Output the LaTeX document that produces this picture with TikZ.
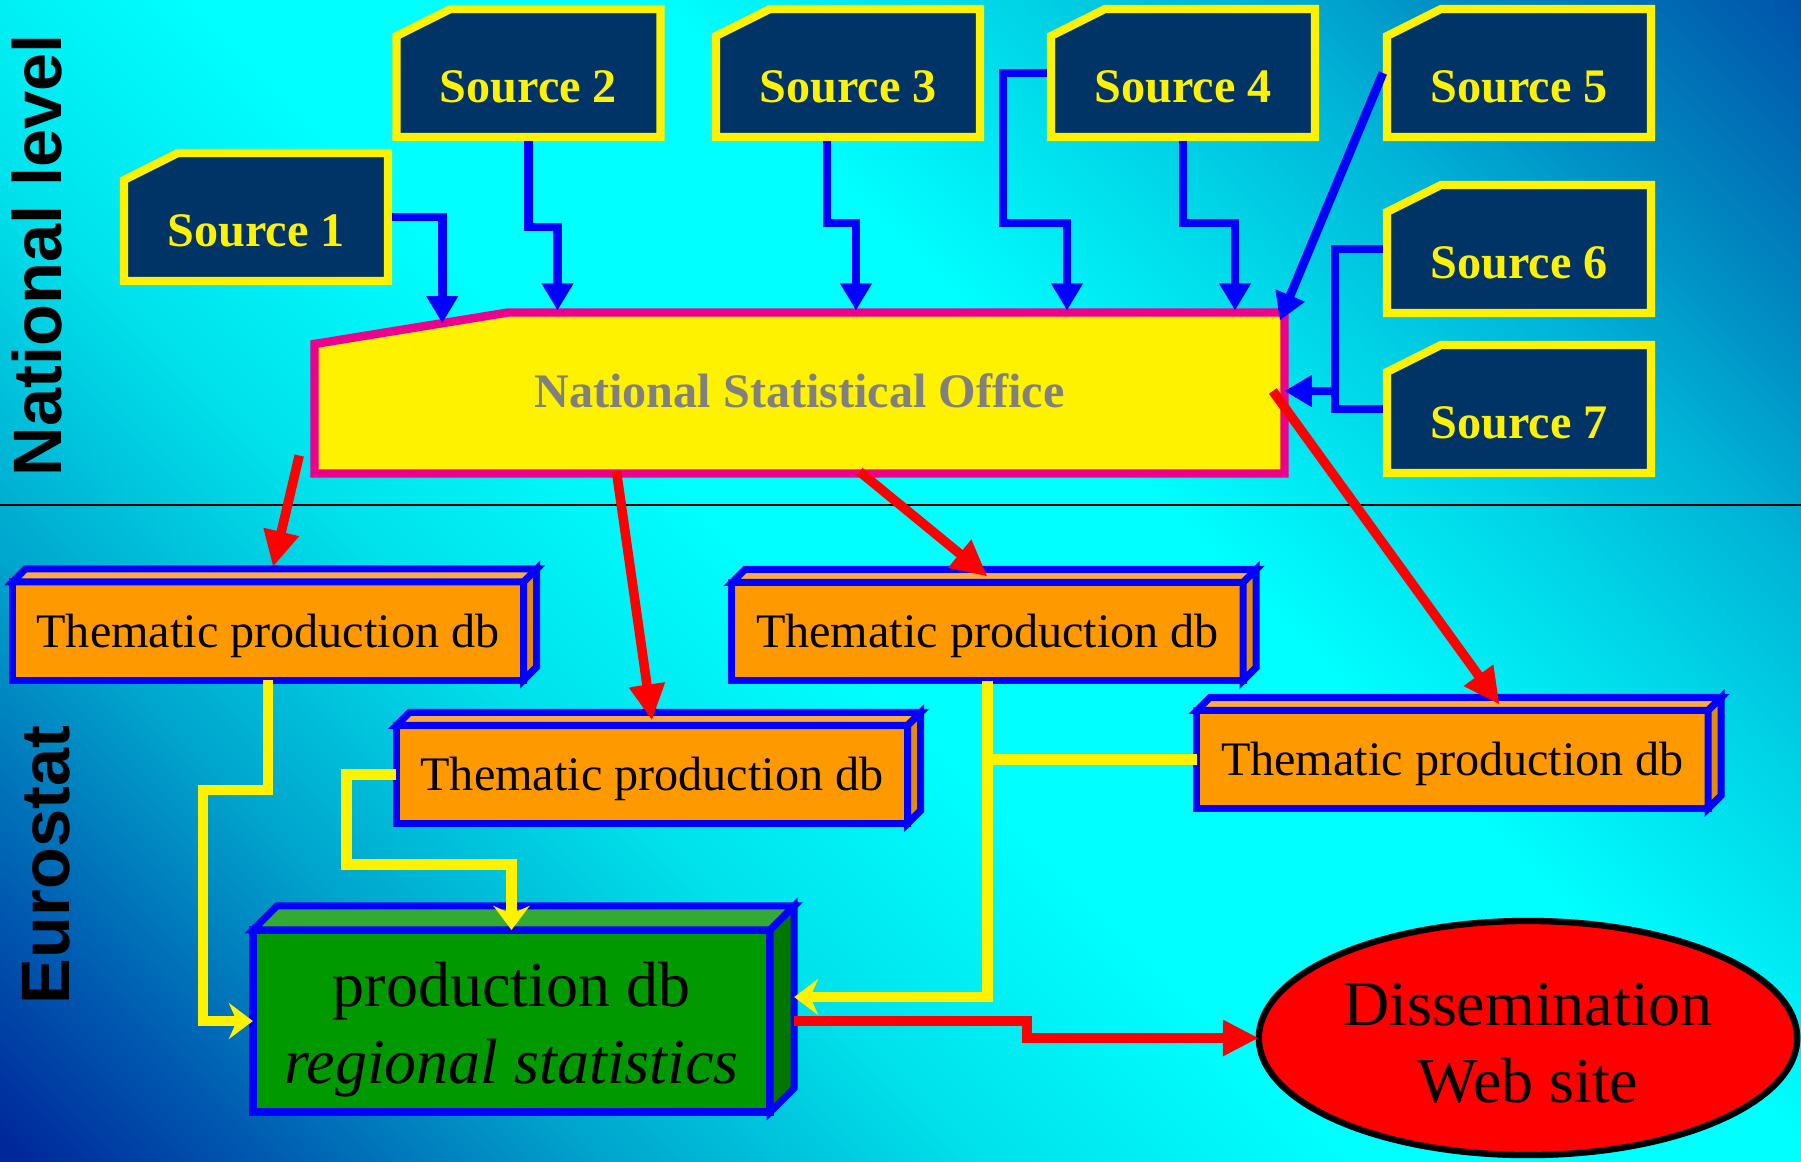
\documentclass[tikz,border=0pt]{standalone}
\usepackage{fontspec}
\setmainfont{Liberation Serif}
\setsansfont{Liberation Sans}
\usetikzlibrary{arrows.meta,calc,shapes.geometric}

\definecolor{srcblue}{RGB}{0,51,102}
\definecolor{tporange}{RGB}{255,153,0}
\definecolor{tptop}{RGB}{255,170,60}
\definecolor{tpside}{RGB}{230,140,0}
\definecolor{prodgreen}{RGB}{0,153,0}
\definecolor{prodtop}{RGB}{51,170,51}
\definecolor{prodside}{RGB}{0,120,0}
\definecolor{bgA}{RGB}{0,40,155}
\definecolor{bgB}{RGB}{0,100,180}
\definecolor{bgC}{RGB}{0,165,205}
\definecolor{bgD}{RGB}{0,225,235}
\definecolor{bgE}{RGB}{0,255,255}
\definecolor{bgF}{RGB}{0,215,232}
\definecolor{bgG}{RGB}{0,180,215}
\definecolor{bgH}{RGB}{0,135,192}
\definecolor{bgI}{RGB}{0,80,168}
\pgfdeclarehorizontalshading{backdrop}{100bp}{color(0bp)=(bgA); color(15bp)=(bgA); color(22bp)=(bgB); color(29bp)=(bgC); color(38bp)=(bgD); color(47bp)=(bgE); color(58bp)=(bgE); color(66bp)=(bgF); color(72bp)=(bgG); color(78bp)=(bgH); color(86bp)=(bgI); color(100bp)=(bgI)}

\newcommand{\sourcebox}[3]{%
  \draw[srcframe,shift={(#2)}] (-132,-37) -- (-78,-64) -- (132,-64) -- (132,64) -- (-132,64) -- cycle;
  \node[srcnode] (#1) at (#2) {#3};}
\newcommand{\dbfaces}[4]{%
  \draw[dbline,fill=#3] (#1.north west) -- ++(#2,-#2) -- ($(#1.north east)+(#2,-#2)$) -- (#1.north east) -- cycle;
  \draw[dbline,fill=#4] (#1.north east) -- ++(#2,-#2) -- ($(#1.south east)+(#2,-#2)$) -- (#1.south east) -- cycle;}

\begin{document}
\begin{tikzpicture}[x=0.01cm,y=-0.01cm]
  \tikzset{every node/.style={inner sep=0pt,outer sep=0pt}}
  \tikzset{
    srcframe/.style={draw=yellow,line width=2.3pt,fill=srcblue},
    srcnode/.style={minimum width=2.64cm,minimum height=1.28cm,outer sep=1.15pt,
      text height=0.59cm,text depth=0pt,text=yellow,font=\fontsize{13.7}{16}\selectfont\bfseries},
    nsoframe/.style={draw=magenta,line width=2.4pt,fill=yellow},
    nsonode/.style={minimum width=9.7cm,minimum height=1.61cm,text=gray,font=\fontsize{13.7}{16}\selectfont\bfseries},
    dbline/.style={draw=blue,line width=2pt},
    tpnode/.style={dbline,fill=tporange,minimum width=5.11cm,minimum height=0.98cm,
      text height=0.32cm,text depth=0pt,font=\fontsize{13.7}{16}\selectfont},
    prodnode/.style={dbline,line width=2.3pt,fill=prodgreen,minimum width=5.17cm,minimum height=1.82cm,
      text height=1.39cm,text depth=0.14cm,align=center,font=\fontsize{18.2}{21.9}\selectfont},
    webnode/.style={ellipse,draw=black,line width=1.8pt,fill=red,minimum width=5.38cm,minimum height=2.34cm,
      text height=1.28cm,text depth=0pt,align=center,font=\fontsize{18.2}{21.9}\selectfont},
    sidelabel/.style={rotate=90,font=\fontsize{19.5}{22}\selectfont\sffamily\bfseries}
  }
  \tikzstyle{bluefeed}=[draw=blue,line width=2.5pt,-{Triangle[length=0.27cm,width=0.3cm]}]
  \tikzstyle{redload}=[draw=red,line width=2.7pt,-{Triangle[length=0.36cm,width=0.34cm]}]
  \tikzstyle{yellowmerge}=[draw=yellow,line width=3pt,-{Stealth[length=0.24cm,width=0.36cm,inset=0.08cm]}]

  \useasboundingbox (0,0) rectangle (1801,1161);
  \shade[shading=backdrop,shading angle=45] (0,0) rectangle (1801,1161);

  % national level / eurostat split
  \draw[line width=0.6pt] (0,505) -- (1801,505);
  \node[sidelabel] (natl) at (37,255) {National level};
  \node[sidelabel] (euro) at (46,865) {Eurostat};

  % sources
  \sourcebox{s1}{256,217}{Source 1}
  \sourcebox{s2}{528.5,73}{Source 2}
  \sourcebox{s3}{848,73}{Source 3}
  \sourcebox{s4}{1183,73}{Source 4}
  \sourcebox{s5}{1519,73}{Source 5}
  \sourcebox{s6}{1519,249}{Source 6}
  \sourcebox{s7}{1519,409}{Source 7}

  % national statistical office
  \coordinate (nsoA) at (314.5,344);
  \coordinate (nsoB) at (508,312.5);
  \draw[nsoframe] (nsoA) -- (nsoB) -- (1284.5,312.5) -- (1284.5,473.5) -- (314.5,473.5) -- cycle;
  \node[nsonode] (nso) at (799.5,391) {National Statistical Office};

  % thematic production dbs
  \node[tpnode] (tpA) at (268,631) {Thematic production db};
  \node[tpnode] (tpB) at (652,774.5) {Thematic production db};
  \node[tpnode] (tpC) at (987.5,631.5) {Thematic production db};
  \node[tpnode] (tpD) at (1452.5,759.5) {Thematic production db};
  \dbfaces{tpA}{13}{tptop}{tpside}
  \dbfaces{tpB}{13}{tptop}{tpside}
  \dbfaces{tpC}{13}{tptop}{tpside}
  \dbfaces{tpD}{13}{tptop}{tpside}

  % production db and web site
  \node[prodnode] (prod) at (511.5,1021) {production db\\\textit{regional statistics}};
  \dbfaces{prod}{24}{prodtop}{prodside}
  \node[webnode] (web) at (1528,1038) {Dissemination\\Web site};

  % yellow: thematic dbs -> production db
  \draw[yellowmerge] (tpA.south) -- ++(0,110) -- ++(-65,0) |- (prod.west);
  \draw[yellowmerge] (tpB.west) -- ++(-50,0) -- ++(0,90) -| (prod.north);
  \draw[yellowmerge] (tpC.south) |- ($(prod.east)+(24,-24)$);
  \draw[yellowmerge,-] (tpD.west) -- (tpD.west -| tpC.south);

  % red: office -> thematic dbs, production db -> web
  \draw[redload] ($(nso.south west)+(-15,-16)$) -- ($(tpA.north)+(5,-15)$);
  \draw[redload] ($(nso.south)+(-183,0)$) -- ($(tpB.north)+(0,-5)$);
  \draw[redload] ($(nso.south)+(60,0)$) -- ($(tpC.north)+(0,-6)$);
  \draw[redload] ($(nso.east)+(-12,0)$) -- ($(tpD.north)+(47,-6)$);
  \draw[redload] ($(prod.east)+(24,0)$) -- ++(233,0) |- (web.west);

  % blue: sources -> office
  \draw[bluefeed] (s1.east) -| ($(nsoA)!0.66!(nsoB)$);
  \draw[bluefeed] (s2.south) -- ++(0,86) -| ($(s2.south |- nso.north)+(29,0)$);
  \draw[bluefeed] ($(s3.south)+(-21,0)$) -- ++(0,82) -| ($(s3.south |- nso.north)+(8,0)$);
  \draw[bluefeed] (s4.west) -- ++(-44,0) -- ++(0,150) -| ($(s4.south |- nso.north)+(-116,0)$);
  \draw[bluefeed] (s4.south) -- ++(0,82) -| ($(s4.south |- nso.north)+(52,0)$);
  \draw[bluefeed] (s5.west) -- ($(nso.north east)+(-5,10)$);
  \draw[bluefeed] (s6.west) -- ++(-48,0) |- (nso.east);
  \draw[bluefeed] (s7.west) -- ++(-48,0) |- (nso.east);
\end{tikzpicture}
\end{document}
